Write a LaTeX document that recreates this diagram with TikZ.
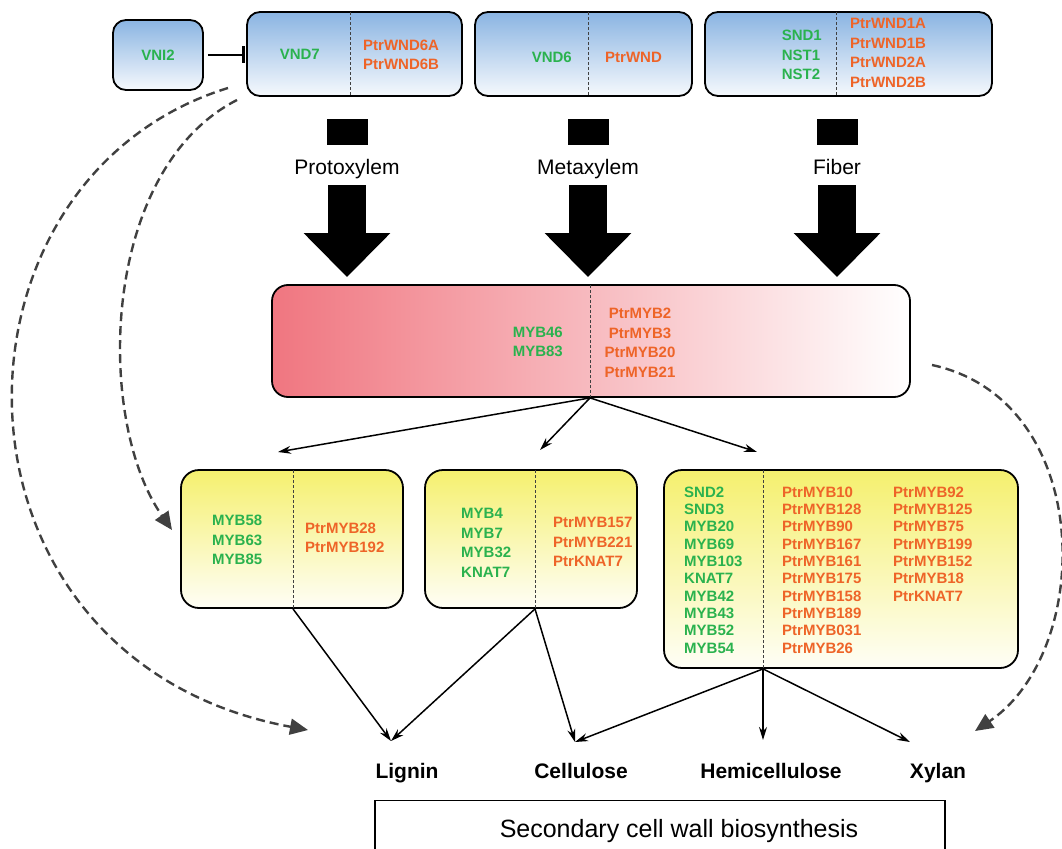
\documentclass[tikz,border=0pt]{standalone}
\usepackage{fontspec}
\setmainfont{Liberation Sans}
\usetikzlibrary{arrows.meta, positioning, calc}
\definecolor{cBlue}{RGB}{138,180,226}
\definecolor{cYellow}{RGB}{245,240,110}
\definecolor{cPink}{RGB}{240,118,128}
\definecolor{cGene}{RGB}{42,178,78}
\definecolor{cPtr}{RGB}{238,100,40}
\definecolor{cDash}{RGB}{64,64,64}
\newcommand{\genefont}{\bfseries\fontsize{15}{19.5}\selectfont}
\newcommand{\genefonttight}{\bfseries\fontsize{15}{17.3}\selectfont}
\tikzset{
	tfbox/.style   ={rectangle, draw=black, line width=1.8pt, rounded corners=13pt, top color=cBlue, bottom color=cBlue!8},
	mybbox/.style  ={rectangle, draw=black, line width=1.8pt, rounded corners=16pt, left color=cPink, middle color=cPink!35, right color=white},
	subbox/.style  ={rectangle, draw=black, line width=1.8pt, rounded corners=18pt, top color=cYellow, bottom color=cYellow!6},
	divider/.style ={densely dashed, line width=0.7pt, draw=black!75, shorten <=1pt, shorten >=1pt},
	atg/.style     ={text=cGene, font=\genefont, align=left, inner sep=0pt},
	ptr/.style     ={text=cPtr, font=\genefont, align=left, inner sep=0pt},
	stub/.style    ={rectangle, fill=black, minimum width=41pt, minimum height=25pt, inner sep=0pt},
	celltype/.style={font=\fontsize{21}{24}\selectfont, anchor=base},
	product/.style ={font=\bfseries\fontsize{21}{24}\selectfont, anchor=base},
	bigarrow/.style={line width=38pt, -{Triangle[length=44pt,width=84pt]}},
	sig/.style     ={-{Stealth[length=13pt,width=8pt]}, line width=1.5pt},
	inhib/.style   ={-{Bar[width=17pt,line width=3pt]}, line width=2.6pt},
	dasharrow/.style={draw=cDash, line width=2.4pt, dash pattern=on 9pt off 5pt, -{Triangle[length=18pt,width=16pt]}},
}
\begin{document}
\begin{tikzpicture}[x=1pt, y=-1pt]
	\useasboundingbox (0,0) rectangle (1062,848);
	\node[tfbox, minimum width=90pt, minimum height=70pt, text=cGene, font=\genefont] (vni2) at (158,55) {VNI2};
	\node[tfbox, minimum width=215pt, minimum height=84pt] (vnd7) at (354.5,54) {};
	\node[tfbox, minimum width=217pt, minimum height=84pt] (vnd6) at (583.5,54) {};
	\node[tfbox, minimum width=287pt, minimum height=84pt] (snd) at (848.5,54) {};
	\node[mybbox, minimum width=638pt, minimum height=112pt] (pink) at (591,341) {};
	\node[subbox, minimum width=222pt, minimum height=138pt] (y1) at (292,539) {};
	\node[subbox, minimum width=212pt, minimum height=138pt] (y2) at (531,539) {};
	\node[subbox, minimum width=354pt, minimum height=198pt] (y3) at (841,569) {};
	\coordinate (d1) at (350,0);
	\coordinate (d2) at (588,0);
	\coordinate (d3) at (836,0);
	\coordinate (dp) at (590,0);
	\coordinate (dy1) at (293,0);
	\coordinate (dy2) at (535,0);
	\coordinate (dy3) at (763,0);
	\draw[divider] (d1 |- vnd7.north) -- (d1 |- vnd7.south);
	\draw[divider] (d2 |- vnd6.north) -- (d2 |- vnd6.south);
	\draw[divider] (d3 |- snd.north) -- (d3 |- snd.south);
	\draw[divider] (dp |- pink.north) -- (dp |- pink.south);
	\draw[divider] (dy1 |- y1.north) -- (dy1 |- y1.south);
	\draw[divider] (dy2 |- y2.north) -- (dy2 |- y2.south);
	\draw[divider] (dy3 |- y3.north) -- (dy3 |- y3.south);
	\node[atg, anchor=east] (vnd7g) at (320,54) {VND7};
	\node[ptr, anchor=west] (vnd7p) at (363,55) {PtrWND6A\\PtrWND6B};
	\node[atg, anchor=east] (vnd6g) at (572,57) {VND6};
	\node[ptr, anchor=west] (vnd6p) at (605,57) {PtrWND};
	\node[atg, anchor=east] (sndg) at (822,55) {SND1\\NST1\\NST2};
	\node[ptr, anchor=west] (sndp) at (850,53) {PtrWND1A\\PtrWND1B\\PtrWND2A\\PtrWND2B};
	\node[atg, anchor=east] (pinkg) at (563,342) {MYB46\\MYB83};
	\node[ptr, align=center] (pinkp) at (640,343) {PtrMYB2\\PtrMYB3\\PtrMYB20\\PtrMYB21};
	\node[atg, anchor=west] (y1g) at (212,540) {MYB58\\MYB63\\MYB85};
	\node[ptr, anchor=west] (y1p) at (305,538) {PtrMYB28\\PtrMYB192};
	\node[atg, anchor=west] (y2g) at (461,543) {MYB4\\MYB7\\MYB32\\KNAT7};
	\node[ptr, anchor=west] (y2p) at (553,542) {PtrMYB157\\PtrMYB221\\PtrKNAT7};
	\node[atg, anchor=west, font=\genefonttight] (y3g) at (684,570) {SND2\\SND3\\MYB20\\MYB69\\MYB103\\KNAT7\\MYB42\\MYB43\\MYB52\\MYB54};
	\node[ptr, anchor=west, font=\genefonttight] (y3p) at (782,570) {PtrMYB10\\PtrMYB128\\PtrMYB90\\PtrMYB167\\PtrMYB161\\PtrMYB175\\PtrMYB158\\PtrMYB189\\PtrMYB031\\PtrMYB26};
	\node[ptr, anchor=west, font=\genefonttight] (y3q) at (893,544) {PtrMYB92\\PtrMYB125\\PtrMYB75\\PtrMYB199\\PtrMYB152\\PtrMYB18\\PtrKNAT7};
	\draw[inhib, shorten <=4pt, shorten >=1pt] (vni2.east) -- (vni2.east -| vnd7.west);
	\node[stub] (pstub) at (347,132) {};
	\node[stub] (mstub) at (588,132) {};
	\node[stub] (fstub) at (837,132) {};
	\node[celltype] (proto) at (347,174) {Protoxylem};
	\node[celltype] (meta) at (588,174) {Metaxylem};
	\node[celltype] (fiber) at (837,174) {Fiber};
	\draw[bigarrow, shorten >=7pt] (proto.south |- 0,185) -- (proto |- pink.north);
	\draw[bigarrow, shorten >=7pt] (meta.south |- 0,185) -- (meta |- pink.north);
	\draw[bigarrow, shorten >=7pt] (fiber.south |- 0,185) -- (fiber |- pink.north);
	\node[product] (lignin) at (407,778) {Lignin};
	\node[product] (cellulose) at (581,778) {Cellulose};
	\node[product] (hemi) at (771,778) {Hemicellulose};
	\node[product] (xylan) at (938,778) {Xylan};
	\node[draw=black, line width=1.4pt, minimum width=570pt, minimum height=64pt, anchor=north] (scw) at (660,800) {};
	\node[font=\fontsize{25}{28}\selectfont, anchor=base] (scwt) at (679,837) {Secondary cell wall biosynthesis};
	\coordinate (pbot) at (dp |- pink.south);
	\coordinate (y1bot) at (dy1 |- y1.south);
	\coordinate (y2bot) at (dy2 |- y2.south);
	\coordinate (y3bot) at (dy3 |- y3.south);
	\coordinate (inY1) at (278,452);
	\coordinate (inY2) at (540,450);
	\coordinate (inY3) at (757,452);
	\coordinate (inLig) at (391,741);
	\coordinate (inCel) at (575,742);
	\coordinate (inHem) at (763,740);
	\coordinate (inXyl) at (910,742);
	\draw[sig] (pbot) -- (inY1);
	\draw[sig] (pbot) -- (inY2);
	\draw[sig] (pbot) -- (inY3);
	\draw[sig] (y1bot) -- (inLig);
	\draw[sig] (y2bot) -- (inLig);
	\draw[sig] (y2bot) -- (inCel);
	\draw[sig] (y3bot) -- (inCel);
	\draw[sig] (y3bot) -- (inHem);
	\draw[sig] (y3bot) -- (inXyl);
	\coordinate (outerS) at (228,88);
	\coordinate (outerE) at (308,730);
	\coordinate (innerS) at (237,100);
	\coordinate (innerE) at (172,530);
	\coordinate (rightS) at (932,365);
	\coordinate (rightE) at (975,731);
	\draw[dasharrow] (outerS) .. controls (-70,180) and (-70,660) .. (outerE);
	\draw[dasharrow] (innerS) .. controls (100,170) and (95,420) .. (innerE);
	\draw[dasharrow] (rightS) .. controls (1095,400) and (1095,650) .. (rightE);
\end{tikzpicture}
\end{document}
